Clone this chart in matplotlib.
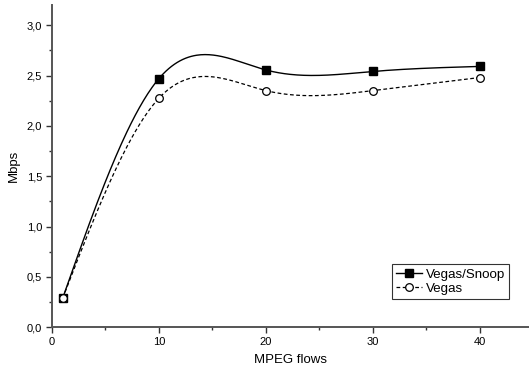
import numpy as np
import matplotlib
matplotlib.use("Agg")
from matplotlib import pyplot as plt
from matplotlib.ticker import MultipleLocator, FuncFormatter

plt.rcParams['font.family'] = ['Liberation Sans', 'DejaVu Sans']

flows = [1, 10, 20, 30, 40]
snoop = [0.29, 2.47, 2.555, 2.54, 2.59]
vegas = [0.29, 2.275, 2.35, 2.35, 2.48]


def natural_spline(x, y, n=300):
    # natural cubic spline through the points, for the smoothed connecting line
    x = np.asarray(x, float)
    y = np.asarray(y, float)
    k = len(x)
    h = np.diff(x)
    A = np.zeros((k, k))
    b = np.zeros(k)
    A[0, 0] = A[-1, -1] = 1
    for i in range(1, k - 1):
        A[i, i - 1] = h[i - 1]
        A[i, i] = 2 * (h[i - 1] + h[i])
        A[i, i + 1] = h[i]
        b[i] = 6 * ((y[i + 1] - y[i]) / h[i] - (y[i] - y[i - 1]) / h[i - 1])
    m = np.linalg.solve(A, b)
    xs = np.linspace(x[0], x[-1], n)
    idx = np.clip(np.searchsorted(x, xs) - 1, 0, k - 2)
    x0, x1 = x[idx], x[idx + 1]
    hh = x1 - x0
    t0, t1 = x1 - xs, xs - x0
    ys = (m[idx] * t0 ** 3 + m[idx + 1] * t1 ** 3) / (6 * hh) \
        + (y[idx] / hh - m[idx] * hh / 6) * t0 \
        + (y[idx + 1] / hh - m[idx + 1] * hh / 6) * t1
    return xs, ys


fig = plt.figure(figsize=(5.29, 3.75), dpi=100)
ax = fig.add_axes([52 / 529, 47.7 / 375, 1 - 52 / 529, 322.3 / 375])

xs, ys = natural_spline(flows, snoop)
ax.plot(xs, ys, color='black', lw=1.0)
xs, ys = natural_spline(flows, vegas)
ax.plot(xs, ys, color='black', lw=0.9, ls=(0, (3, 2)))

ax.plot(flows, snoop, ls='none', marker='s', ms=5.5, color='black')
ax.plot(flows, vegas, ls='none', marker='o', ms=5.5, mfc='white', mec='black', mew=0.9)

# legend handles: line with marker in the middle
h1, = ax.plot([], [], color='black', lw=1.0, marker='s', ms=5.5)
h2, = ax.plot([], [], color='black', lw=0.9, ls=(0, (3, 2)), marker='o', ms=5.5,
              mfc='white', mec='black', mew=0.9)
leg = ax.legend([h1, h2], ['Vegas/Snoop', 'Vegas'], loc='lower right',
                bbox_to_anchor=(0.958, 0.088), fontsize=9.6, frameon=True,
                fancybox=False, edgecolor='black', borderpad=0.3,
                labelspacing=0.15, handlelength=1.9, handletextpad=0.3,
                borderaxespad=0)
leg.get_frame().set_linewidth(0.8)

ax.set_xlim(0, 44.6)
ax.set_ylim(0, 3.2)
ax.xaxis.set_major_locator(MultipleLocator(10))
ax.xaxis.set_minor_locator(MultipleLocator(5))
ax.yaxis.set_major_locator(MultipleLocator(0.5))
ax.yaxis.set_minor_locator(MultipleLocator(0.25))
ax.yaxis.set_major_formatter(FuncFormatter(lambda v, p: f'{v:.1f}'.replace('.', ',')))

for s in ['top', 'right']:
    ax.spines[s].set_visible(False)
for s in ['left', 'bottom']:
    ax.spines[s].set_linewidth(1.4)
    ax.spines[s].set_color('#555555')
ax.tick_params(which='major', length=4, width=1.0, color='#333333', labelsize=8, pad=3)
ax.tick_params(which='minor', length=2.5, width=1.0, color='#333333')

ax.set_xlabel('MPEG flows', fontsize=9.5, labelpad=5)
ax.set_ylabel('Mbps', fontsize=9.5, labelpad=5)

fig.savefig('out.png', dpi=100)
